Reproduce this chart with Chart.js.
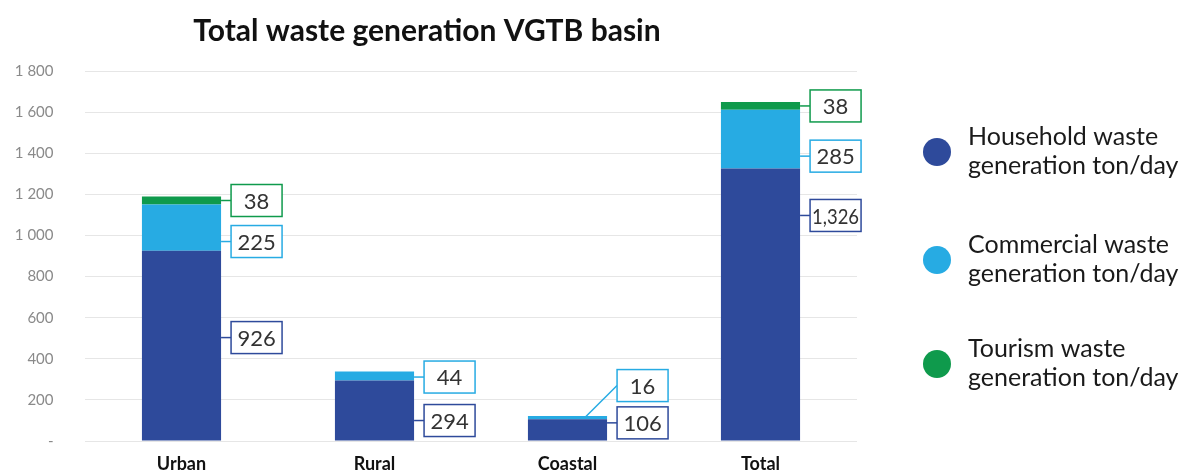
<!DOCTYPE html>
<html>
<head>
<meta charset="utf-8">
<script src="https://cdn.jsdelivr.net/npm/chart.js@4/dist/chart.umd.min.js"></script>
<style>
  html, body { margin: 0; padding: 0; background: #fff; overflow: hidden; }
  #wrap { position: relative; width: 1184px; height: 472px; }
  canvas { display: block; }
</style>
</head>
<body>
<div id="wrap"><canvas id="chart"></canvas></div>
<script>
const categories = ['Urban', 'Rural', 'Coastal', 'Total'];
const household = [926, 294, 106, 1326];
const commercial = [225, 44, 16, 285];
const tourism = [38, 0, 0, 38];
const tickLabels = ['-', '200', '400', '600', '800', '1 000', '1 200', '1 400', '1 600', '1 800'];

const seriesNames = [
  'Household waste generation ton/day',
  'Commercial waste generation ton/day',
  'Tourism waste generation ton/day'
];
const colors = ['#2e4a9b', '#27abe3', '#0f9a4c'];

Chart.defaults.font.family = 'Lato';

// boxed value labels with a short leader line
const callouts = {
  id: 'callouts',
  afterDatasetsDraw(chart, args, opts) {
    const ctx = chart.ctx;
    chart.data.datasets.forEach((ds, i) => {
      const meta = chart.getDatasetMeta(i);
      meta.data.forEach((bar, j) => {
        const v = ds.data[j];
        if (!v) return;
        const top = Math.min(bar.y, bar.base);
        const bottom = Math.max(bar.y, bar.base);
        const mid = (top + bottom) / 2;
        const cy = mid + opts.shift[i][j];
        const right = bar.x + bar.width / 2;
        const bx = right + 10, bw = 51, bh = 32;
        ctx.save();
        ctx.strokeStyle = ds.backgroundColor;
        ctx.lineWidth = 1.5;
        ctx.beginPath();
        if (cy >= top - 1 && cy <= bottom + 1) {
          ctx.moveTo(right, cy);
        } else {
          ctx.moveTo(bar.x + bar.width * 0.22, mid);
        }
        ctx.lineTo(bx, cy);
        ctx.stroke();
        ctx.fillStyle = '#fff';
        ctx.fillRect(bx, cy - bh / 2, bw, bh);
        ctx.strokeRect(bx, cy - bh / 2, bw, bh);
        ctx.fillStyle = '#333';
        ctx.font = '22px Lato';
        ctx.textAlign = 'center';
        ctx.textBaseline = 'middle';
        const txt = v.toLocaleString('en-US');
        const w = ctx.measureText(txt).width;
        const sx = Math.min(1, (bw - 4) / w);
        ctx.translate(bx + bw / 2, cy + 1);
        ctx.scale(sx, 1);
        ctx.fillText(txt, 0, 0);
        ctx.restore();
      });
    });
  }
};

const extras = {
  id: 'extras',
  afterDraw(chart) {
    const ctx = chart.ctx;
    ctx.save();
    // title
    ctx.fillStyle = '#111';
    ctx.font = 'bold 30px Lato';
    ctx.textAlign = 'center';
    ctx.textBaseline = 'middle';
    ctx.fillText('Total waste generation VGTB basin', 427, 31);

    // legend
    const ys = [152, 260, 364];
    chart.data.datasets.forEach((ds, i) => {
      ctx.fillStyle = ds.backgroundColor;
      ctx.beginPath();
      ctx.arc(937, ys[i], 14, 0, Math.PI * 2);
      ctx.fill();
      const lines = ds.label.replace(' generation', '\ngeneration').split('\n');
      ctx.fillStyle = '#1a1a1a';
      ctx.font = '25px Lato';
      ctx.textAlign = 'left';
      lines.forEach((t, k) => ctx.fillText(t, 968, ys[i] - 15 + k * 29));
    });
    ctx.restore();
  }
};

new Chart(document.getElementById('chart'), {
  type: 'bar',
  data: {
    labels: categories,
    datasets: [household, commercial, tourism].map((d, i) => ({
      label: seriesNames[i],
      data: d,
      backgroundColor: colors[i],
      borderWidth: 0,
      barPercentage: 0.41,
      categoryPercentage: 1
    }))
  },
  options: {
    responsive: true,
    maintainAspectRatio: false,
    animation: false,
    devicePixelRatio: 1,
    layout: { padding: { top: 71, right: 327, left: 0, bottom: 0 } },
    plugins: {
      legend: { display: false },
      tooltip: { enabled: false },
      callouts: { shift: [[-8, 10, -7, -89], [14, 1, -32, 17], [0, 0, 0, 0]] }
    },
    scales: {
      x: {
        stacked: true,
        grid: { display: false, drawTicks: false },
        border: { display: false },
        ticks: { color: '#111', font: { size: 18, weight: 'bold' }, padding: 12 },
        afterFit(s) { s.height = 31; }
      },
      y: {
        stacked: true,
        min: 0,
        max: 1800,
        border: { display: false },
        grid: { color: '#e6e6e6', lineWidth: 1, drawTicks: false },
        ticks: {
          stepSize: 200,
          color: '#8a8a8a',
          font: { size: 15 },
          padding: 20,
          // trailing spaces push the right-aligned labels a little further left
          callback: (v) => tickLabels[v / 200] + '   '
        },
        afterFit(s) { s.width = 85; }
      }
    }
  },
  plugins: [callouts, extras]
});
</script>
</body>
</html>
